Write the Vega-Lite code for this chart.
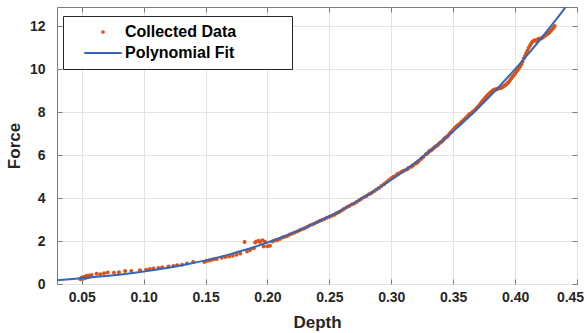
{
  "$schema": "https://vega.github.io/schema/vega-lite/v6.json",
  "width": 520,
  "height": 277,
  "autosize": {"type": "none"},
  "padding": {"left": 57, "top": 7, "right": 10, "bottom": 49},
  "background": "white",
  "config": {
    "view": {"stroke": "#7a7a7a", "strokeWidth": 1},
    "font": "Liberation Sans",
    "axis": {
      "labelFont": "Liberation Sans", "labelFontWeight": "bold", "labelFontSize": 14, "labelColor": "#262626",
      "titleFont": "Liberation Sans", "titleFontWeight": "bold", "titleFontSize": 17, "titleColor": "#262626",
      "gridColor": "#e3e3e3", "gridWidth": 1, "domain": false, "tickColor": "#7a7a7a", "tickSize": -5, "tickWidth": 1
    }
  },
  "datasets": {
    "scatter": [
      {"depth":0.049,"force":0.22},{"depth":0.050,"force":0.30},{"depth":0.051,"force":0.25},{"depth":0.052,"force":0.34},
      {"depth":0.053,"force":0.28},{"depth":0.054,"force":0.38},{"depth":0.055,"force":0.31},{"depth":0.056,"force":0.40},
      {"depth":0.057,"force":0.35},{"depth":0.058,"force":0.42},{"depth":0.062,"force":0.48},{"depth":0.065,"force":0.45},
      {"depth":0.068,"force":0.50},{"depth":0.071,"force":0.53},{"depth":0.076,"force":0.52},{"depth":0.080,"force":0.55},
      {"depth":0.085,"force":0.60},{"depth":0.090,"force":0.61},{"depth":0.097,"force":0.64},{"depth":0.102,"force":0.66},
      {"depth":0.105,"force":0.70},{"depth":0.108,"force":0.72},{"depth":0.112,"force":0.74},{"depth":0.115,"force":0.78},
      {"depth":0.120,"force":0.81},{"depth":0.124,"force":0.84},{"depth":0.127,"force":0.87},{"depth":0.131,"force":0.90},
      {"depth":0.135,"force":0.95},{"depth":0.140,"force":1.02},{"depth":0.149,"force":1.03},{"depth":0.151,"force":1.08},
      {"depth":0.153,"force":1.10},{"depth":0.155,"force":1.13},{"depth":0.157,"force":1.16},{"depth":0.159,"force":1.16},
      {"depth":0.163,"force":1.22},{"depth":0.166,"force":1.26},{"depth":0.169,"force":1.28},{"depth":0.172,"force":1.32},
      {"depth":0.175,"force":1.36},{"depth":0.178,"force":1.42},{"depth":0.1815,"force":1.96},{"depth":0.1835,"force":1.51},
      {"depth":0.186,"force":1.58},{"depth":0.189,"force":1.66},{"depth":0.190,"force":1.93},{"depth":0.191,"force":1.98},
      {"depth":0.193,"force":2.01},{"depth":0.194,"force":1.96},{"depth":0.196,"force":2.04},{"depth":0.197,"force":1.75},
      {"depth":0.198,"force":1.97},{"depth":0.200,"force":1.76},{"depth":0.202,"force":1.78},{"depth":0.204,"force":1.98},
      {"depth":0.206,"force":2.02},{"depth":0.208,"force":2.04},{"depth":0.210,"force":2.10},{"depth":0.212,"force":2.16},
      {"depth":0.214,"force":2.20},{"depth":0.216,"force":2.24},{"depth":0.218,"force":2.30},{"depth":0.220,"force":2.35},
      {"depth":0.222,"force":2.40},{"depth":0.224,"force":2.44},{"depth":0.226,"force":2.50},{"depth":0.228,"force":2.55},
      {"depth":0.230,"force":2.60},{"depth":0.232,"force":2.66},{"depth":0.234,"force":2.72},{"depth":0.236,"force":2.77},
      {"depth":0.238,"force":2.82},{"depth":0.240,"force":2.88},{"depth":0.242,"force":2.93},{"depth":0.244,"force":2.98},
      {"depth":0.246,"force":3.03},{"depth":0.248,"force":3.08},{"depth":0.250,"force":3.13},{"depth":0.252,"force":3.18},
      {"depth":0.254,"force":3.22},{"depth":0.256,"force":3.29},{"depth":0.258,"force":3.35},{"depth":0.260,"force":3.42},
      {"depth":0.262,"force":3.50},{"depth":0.264,"force":3.57},{"depth":0.266,"force":3.63},{"depth":0.268,"force":3.70},
      {"depth":0.270,"force":3.75},{"depth":0.272,"force":3.82},{"depth":0.274,"force":3.90},{"depth":0.276,"force":3.97},
      {"depth":0.278,"force":4.04},{"depth":0.280,"force":4.10},{"depth":0.282,"force":4.18},{"depth":0.284,"force":4.24},
      {"depth":0.286,"force":4.32},{"depth":0.288,"force":4.40},{"depth":0.290,"force":4.47},{"depth":0.292,"force":4.56},
      {"depth":0.294,"force":4.65},{"depth":0.296,"force":4.74},{"depth":0.298,"force":4.83},{"depth":0.300,"force":4.92},
      {"depth":0.301,"force":4.96},{"depth":0.302,"force":5.00},{"depth":0.304,"force":5.07},{"depth":0.305,"force":5.12},
      {"depth":0.306,"force":5.15},{"depth":0.308,"force":5.22},{"depth":0.309,"force":5.24},{"depth":0.310,"force":5.27},
      {"depth":0.312,"force":5.32},{"depth":0.313,"force":5.36},{"depth":0.314,"force":5.40},{"depth":0.316,"force":5.46},
      {"depth":0.317,"force":5.50},{"depth":0.318,"force":5.54},{"depth":0.320,"force":5.62},{"depth":0.321,"force":5.66},
      {"depth":0.322,"force":5.72},{"depth":0.324,"force":5.82},{"depth":0.325,"force":5.88},{"depth":0.326,"force":5.93},
      {"depth":0.328,"force":6.04},{"depth":0.329,"force":6.08},{"depth":0.330,"force":6.14},{"depth":0.331,"force":6.20},
      {"depth":0.332,"force":6.22},{"depth":0.333,"force":6.26},{"depth":0.334,"force":6.32},{"depth":0.335,"force":6.38},
      {"depth":0.336,"force":6.41},{"depth":0.337,"force":6.45},{"depth":0.338,"force":6.50},{"depth":0.339,"force":6.57},
      {"depth":0.340,"force":6.60},{"depth":0.341,"force":6.64},{"depth":0.342,"force":6.71},{"depth":0.343,"force":6.78},
      {"depth":0.344,"force":6.82},{"depth":0.345,"force":6.86},{"depth":0.346,"force":6.92},{"depth":0.347,"force":7.00},
      {"depth":0.348,"force":7.05},{"depth":0.349,"force":7.10},{"depth":0.350,"force":7.18},{"depth":0.351,"force":7.25},
      {"depth":0.352,"force":7.30},{"depth":0.353,"force":7.36},{"depth":0.354,"force":7.40},{"depth":0.355,"force":7.44},
      {"depth":0.356,"force":7.50},{"depth":0.357,"force":7.56},{"depth":0.358,"force":7.60},{"depth":0.359,"force":7.66},
      {"depth":0.360,"force":7.72},{"depth":0.361,"force":7.76},{"depth":0.362,"force":7.83},{"depth":0.363,"force":7.90},
      {"depth":0.364,"force":7.93},{"depth":0.365,"force":7.97},{"depth":0.366,"force":8.02},{"depth":0.367,"force":8.08},
      {"depth":0.368,"force":8.12},{"depth":0.369,"force":8.20},{"depth":0.370,"force":8.25},{"depth":0.371,"force":8.31},
      {"depth":0.372,"force":8.40},{"depth":0.373,"force":8.48},{"depth":0.374,"force":8.55},{"depth":0.375,"force":8.60},
      {"depth":0.376,"force":8.68},{"depth":0.377,"force":8.74},{"depth":0.378,"force":8.80},{"depth":0.379,"force":8.86},
      {"depth":0.380,"force":8.92},{"depth":0.381,"force":8.97},{"depth":0.382,"force":9.01},{"depth":0.383,"force":9.05},
      {"depth":0.384,"force":9.07},{"depth":0.385,"force":9.06},{"depth":0.386,"force":9.09},{"depth":0.387,"force":9.12},
      {"depth":0.388,"force":9.12},{"depth":0.389,"force":9.14},{"depth":0.390,"force":9.18},{"depth":0.391,"force":9.22},
      {"depth":0.392,"force":9.26},{"depth":0.393,"force":9.30},{"depth":0.394,"force":9.36},{"depth":0.395,"force":9.42},
      {"depth":0.396,"force":9.50},{"depth":0.397,"force":9.58},{"depth":0.398,"force":9.65},{"depth":0.399,"force":9.72},
      {"depth":0.400,"force":9.80},{"depth":0.401,"force":9.88},{"depth":0.402,"force":9.95},{"depth":0.403,"force":10.05},
      {"depth":0.404,"force":10.12},{"depth":0.405,"force":10.22},{"depth":0.406,"force":10.35},{"depth":0.407,"force":10.50},
      {"depth":0.408,"force":10.62},{"depth":0.409,"force":10.75},{"depth":0.410,"force":10.88},{"depth":0.411,"force":11.00},
      {"depth":0.412,"force":11.10},{"depth":0.413,"force":11.20},{"depth":0.414,"force":11.28},{"depth":0.415,"force":11.33},
      {"depth":0.416,"force":11.35},{"depth":0.417,"force":11.33},{"depth":0.418,"force":11.38},{"depth":0.419,"force":11.42},
      {"depth":0.420,"force":11.42},{"depth":0.421,"force":11.43},{"depth":0.422,"force":11.47},{"depth":0.423,"force":11.52},
      {"depth":0.424,"force":11.56},{"depth":0.425,"force":11.60},{"depth":0.426,"force":11.64},{"depth":0.427,"force":11.68},
      {"depth":0.428,"force":11.73},{"depth":0.429,"force":11.80},{"depth":0.430,"force":11.86},{"depth":0.431,"force":11.93},
      {"depth":0.432,"force":12.02}
    ],
    "fit": [
      {"depth":0.03,"force":0.17},{"depth":0.04,"force":0.22},{"depth":0.05,"force":0.275},{"depth":0.06,"force":0.325},
      {"depth":0.07,"force":0.377},{"depth":0.08,"force":0.436},{"depth":0.09,"force":0.503},{"depth":0.10,"force":0.578},
      {"depth":0.11,"force":0.661},{"depth":0.12,"force":0.755},{"depth":0.13,"force":0.859},{"depth":0.14,"force":0.974},
      {"depth":0.15,"force":1.100},{"depth":0.16,"force":1.239},{"depth":0.17,"force":1.391},{"depth":0.18,"force":1.557},
      {"depth":0.19,"force":1.737},{"depth":0.20,"force":1.932},{"depth":0.21,"force":2.142},{"depth":0.22,"force":2.369},
      {"depth":0.23,"force":2.613},{"depth":0.24,"force":2.875},{"depth":0.25,"force":3.155},{"depth":0.26,"force":3.454},
      {"depth":0.27,"force":3.772},{"depth":0.28,"force":4.111},{"depth":0.29,"force":4.471},{"depth":0.30,"force":4.853},
      {"depth":0.31,"force":5.257},{"depth":0.32,"force":5.684},{"depth":0.33,"force":6.134},{"depth":0.34,"force":6.609},
      {"depth":0.35,"force":7.109},{"depth":0.36,"force":7.634},{"depth":0.37,"force":8.186},{"depth":0.38,"force":8.766},
      {"depth":0.39,"force":9.372},{"depth":0.40,"force":10.006},{"depth":0.41,"force":10.670},{"depth":0.42,"force":11.363},
      {"depth":0.43,"force":12.087},{"depth":0.44,"force":12.840},{"depth":0.45,"force":13.628}
    ]
  },
  "resolve": {"axis": {"x": "independent", "y": "independent"}},
  "layer": [
    {
      "data": {"name": "scatter"},
      "mark": {"type": "point", "filled": true, "size": 16, "opacity": 1},
      "encoding": {
        "x": {
          "field": "depth", "type": "quantitative",
          "scale": {"domain": [0.03, 0.45], "nice": false, "zero": false},
          "axis": {
            "title": "Depth", "values": [0.05, 0.1, 0.15, 0.2, 0.25, 0.3, 0.35, 0.4, 0.45],
            "labelFlush": false, "labelPadding": 11, "titlePadding": 10,
            "labelOffset": {"condition": {"test": "datum.value > 0.449", "value": -7}, "value": 0}
          }
        },
        "y": {
          "field": "force", "type": "quantitative",
          "scale": {"domain": [0, 12.9], "nice": false, "zero": false},
          "axis": {"title": "Force", "values": [0, 2, 4, 6, 8, 10, 12], "labelPadding": 17, "titlePadding": 6}
        },
        "color": {
          "datum": "Collected Data", "type": "nominal",
          "scale": {"domain": ["Collected Data", "Polynomial Fit"], "range": ["#D95319", "#3566b8"]},
          "legend": {
            "orient": "none", "legendX": 6, "legendY": 9, "title": null,
            "fillColor": "white", "strokeColor": "#262626", "padding": 7, "rowPadding": 3, "clipHeight": 18,
            "symbolSize": 14, "symbolStrokeWidth": 0, "symbolOffset": 25, "labelOffset": 14, "labelLimit": 400,
            "labelFont": "Liberation Sans", "labelFontWeight": "bold", "labelFontSize": 16, "labelColor": "black",
            "labelExpr": "datum.label + '\u2800\u2800\u2800\u2800'"
          }
        },
        "shape": {
          "datum": "Collected Data", "type": "nominal",
          "scale": {"domain": ["Collected Data", "Polynomial Fit"], "range": ["circle", "M-10,-0.55H10V0.55H-10Z"]}
        }
      }
    },
    {
      "data": {"name": "fit"},
      "mark": {"type": "line", "color": "#3566b8", "strokeWidth": 2, "clip": true, "interpolate": "monotone"},
      "encoding": {
        "x": {
          "field": "depth", "type": "quantitative",
          "scale": {"domain": [0.03, 0.45], "nice": false, "zero": false},
          "axis": {"orient": "top", "labels": false, "title": null, "grid": false, "values": [0.05, 0.1, 0.15, 0.2, 0.25, 0.3, 0.35, 0.4, 0.45]}
        },
        "y": {
          "field": "force", "type": "quantitative",
          "scale": {"domain": [0, 12.9], "nice": false, "zero": false},
          "axis": {"orient": "right", "labels": false, "title": null, "grid": false, "values": [0, 2, 4, 6, 8, 10, 12]}
        }
      }
    }
  ]
}
